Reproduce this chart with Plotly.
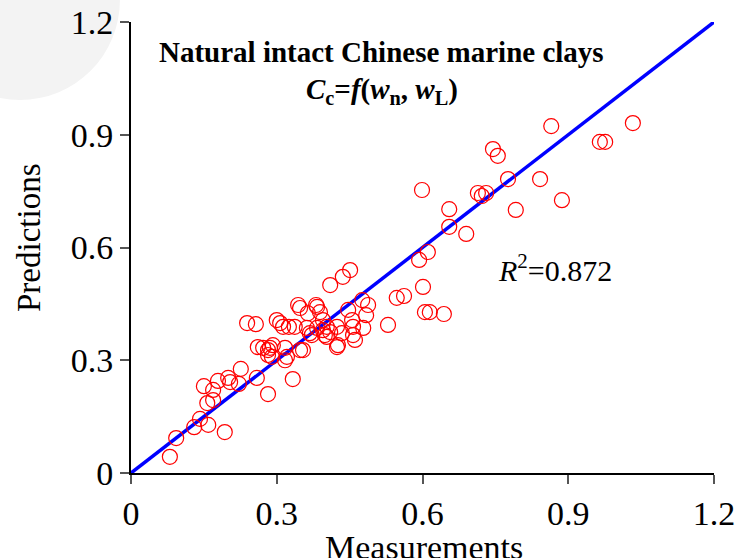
import plotly.graph_objects as go

measurements = [
    0.080, 0.093, 0.130, 0.142, 0.159, 0.193, 0.157, 0.169, 0.150, 0.169,
    0.179, 0.200, 0.204, 0.222, 0.226, 0.259, 0.282, 0.333,
    0.239, 0.257, 0.261, 0.272, 0.282, 0.286, 0.292, 0.282, 0.290, 0.317,
    0.321, 0.317, 0.300, 0.307, 0.313, 0.325, 0.337, 0.344, 0.348, 0.348,
    0.354, 0.362, 0.368, 0.372, 0.364, 0.381, 0.389, 0.383, 0.383, 0.395,
    0.403, 0.399, 0.395, 0.410, 0.403, 0.424, 0.434, 0.426, 0.424, 0.410,
    0.436, 0.451, 0.447, 0.455, 0.457, 0.457, 0.461, 0.478, 0.476, 0.488,
    0.484, 0.529, 0.547, 0.562, 0.593, 0.601, 0.605, 0.615, 0.644, 0.611,
    0.599, 0.655, 0.655, 0.690, 0.714, 0.722, 0.731, 0.745, 0.755, 0.776,
    0.792, 0.842, 0.865, 0.887, 0.965, 0.976, 1.033,
]
predictions = [
    0.043, 0.093, 0.122, 0.144, 0.128, 0.109, 0.186, 0.194, 0.231, 0.221,
    0.245, 0.253, 0.242, 0.237, 0.277, 0.253, 0.210, 0.250,
    0.399, 0.396, 0.335, 0.333, 0.327, 0.333, 0.340, 0.314, 0.309, 0.300,
    0.309, 0.333, 0.407, 0.399, 0.389, 0.389, 0.389, 0.447, 0.439, 0.327,
    0.327, 0.386, 0.372, 0.367, 0.425, 0.447, 0.428, 0.386, 0.442, 0.407,
    0.389, 0.367, 0.380, 0.375, 0.362, 0.389, 0.372, 0.340, 0.335, 0.500,
    0.522, 0.540, 0.434, 0.407, 0.389, 0.367, 0.354, 0.386, 0.460, 0.447,
    0.420, 0.394, 0.466, 0.471, 0.567, 0.495, 0.428, 0.428, 0.423, 0.588,
    0.753, 0.702, 0.655, 0.636, 0.745, 0.737, 0.745, 0.862, 0.844, 0.782,
    0.700, 0.782, 0.923, 0.726, 0.881, 0.881, 0.931,
]
line_x = [0, 1.2]
line_y = [0, 1.2]
tick_vals = [0, 0.3, 0.6, 0.9, 1.2]
tick_text = ["0", "0.3", "0.6", "0.9", "1.2"]

FONT = "Liberation Serif, Times New Roman, serif"

fig = go.Figure()
fig.add_trace(go.Scatter(
    x=line_x, y=line_y, mode="lines",
    line=dict(color="#0000FF", width=3.5), showlegend=False, hoverinfo="skip",
    cliponaxis=False,
))
fig.add_trace(go.Scatter(
    x=measurements, y=predictions, mode="markers",
    marker=dict(symbol="circle-open", size=15, color="#FF0000", line=dict(width=1.2)),
    showlegend=False,
))

axis_common = dict(
    range=[0, 1.2], tickvals=tick_vals, ticktext=tick_text, automargin=False,
    showgrid=False, zeroline=False, showline=True, linecolor="black", linewidth=2,
    ticks="outside", ticklen=9, tickwidth=1.5, tickcolor="#555555",
    tickfont=dict(family=FONT, size=34, color="black"),
)

fig.update_layout(
    width=740, height=558,
    margin=dict(l=131, r=26, t=22, b=85),
    paper_bgcolor="white", plot_bgcolor="rgba(0,0,0,0)",
    xaxis=dict(**axis_common),
    yaxis=dict(**axis_common),
    font=dict(family=FONT, color="black"),
    shapes=[dict(type="circle", xref="paper", yref="paper", layer="below",
                 x0=-0.362, x1=-0.019, y0=0.827, y1=1.27,
                 fillcolor="#f3f3f3", line=dict(width=0))],
    annotations=[
        dict(x=0.515, y=1.12, xref="x", yref="y", showarrow=False,
             text="<b>Natural intact Chinese marine clays</b>",
             font=dict(family=FONT, size=29, color="black")),
        dict(x=0.517, y=1.016, xref="x", yref="y", showarrow=False,
             text="<b><i>C</i><sub>c</sub>=<i>f</i>(<i>w</i><sub>n</sub>, <i>w</i><sub>L</sub>)</b>",
             font=dict(family=FONT, size=29, color="black")),
        dict(x=0.873, y=0.545, xref="x", yref="y", showarrow=False,
             text="<i>R</i><sup>2</sup>=0.872",
             font=dict(family=FONT, size=30, color="black")),
        dict(x=0.503, y=-0.165, xref="paper", yref="paper", showarrow=False,
             xanchor="center", yanchor="middle",
             text="Measurements", font=dict(family=FONT, size=34, color="black")),
        dict(x=-0.175, y=0.521, xref="paper", yref="paper", showarrow=False,
             xanchor="center", yanchor="middle", textangle=-90,
             text="Predictions", font=dict(family=FONT, size=33, color="black")),
    ],
)

fig.write_html(
    "out.html",
    config={"displayModeBar": False},
    post_script="document.body.style.margin='0';document.body.style.overflow='hidden';",
)
